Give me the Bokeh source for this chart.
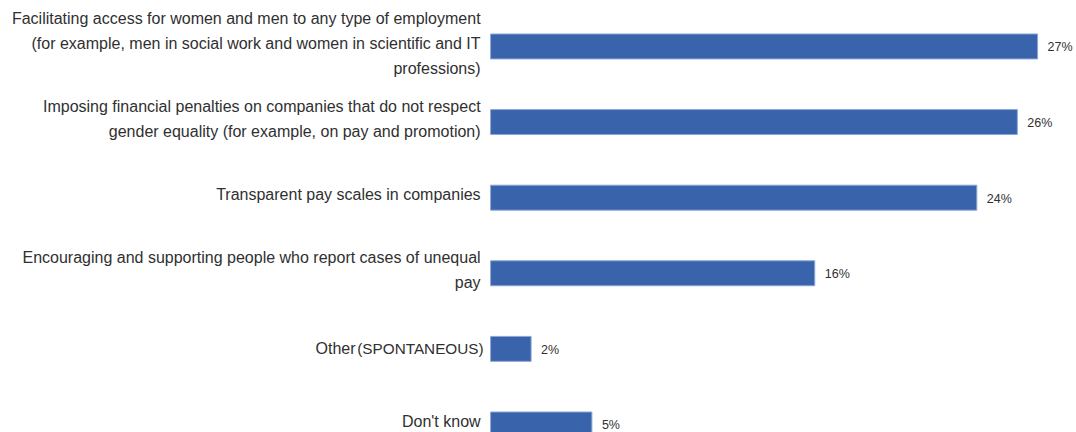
from bokeh.plotting import figure
from bokeh.models import Range1d, ColumnDataSource
from bokeh.core.properties import value
from bokeh.embed import file_html
from bokeh.resources import INLINE

categories = [
    "Facilitating access for women and men to any type of employment\n(for example, men in social work and women in scientific and IT\nprofessions)",
    "Imposing financial penalties on companies that do not respect\ngender equality (for example, on pay and promotion)",
    "Transparent pay scales in companies",
    "Encouraging and supporting people who report cases of unequal\npay",
    "Other (SPONTANEOUS)",
    "Don't know",
]
values = [27, 26, 24, 16, 2, 5]
value_labels = ["27%", "26%", "24%", "16%", "2%", "5%"]

FONT = "Liberation Sans"
TEXT_COLOR = "#303030"
BAR_COLOR = "#3963AA"

ys = list(range(len(categories)))

p = figure(width=1076, height=432,
           x_range=Range1d(-24.19, 28.92), y_range=Range1d(5.106, -0.608),
           x_axis_location=None, y_axis_location=None,
           min_border=0, toolbar_location=None, output_backend="svg")
p.grid.visible = False
p.outline_line_color = None
p.background_fill_color = "white"
p.border_fill_color = "white"

src = ColumnDataSource(dict(y=ys, v=values, lab=value_labels))
p.hbar(y="y", left=0, right="v", height=0.33, source=src,
       fill_color=BAR_COLOR, line_color="#8aa6d8", line_width=1)

p.text(x="v", y="y", text="lab", source=src, x_offset=10, y_offset=1,
       text_baseline="middle", text_align="left",
       text_font=value(FONT), text_font_size="12.5px", text_color=TEXT_COLOR)

# category labels (the spontaneous one is drawn in two parts)
main_idx = [i for i, c in enumerate(categories) if "SPONTANEOUS" not in c]
cat_src = ColumnDataSource(dict(
    x=[0] * len(main_idx),
    y=[ys[i] for i in main_idx],
    t=[categories[i] for i in main_idx],
))
p.text(x="x", y="y", text="t", source=cat_src, x_offset=-10, y_offset=-3,
       text_baseline="middle", text_align="right", text_line_height=1.45,
       text_font=value(FONT), text_font_size="16px", text_color=TEXT_COLOR)

for i, c in enumerate(categories):
    if "SPONTANEOUS" in c:
        first, rest = c.split(" (", 1)
        p.text(x=[0], y=[ys[i]], text=["(" + rest], x_offset=-7,
               text_baseline="middle", text_align="right",
               text_font=value(FONT), text_font_size="15.3px", text_color=TEXT_COLOR)
        p.text(x=[0], y=[ys[i]], text=[first], x_offset=-135,
               text_baseline="middle", text_align="right",
               text_font=value(FONT), text_font_size="16px", text_color=TEXT_COLOR)

open("out.html", "w").write(file_html(p, INLINE))
